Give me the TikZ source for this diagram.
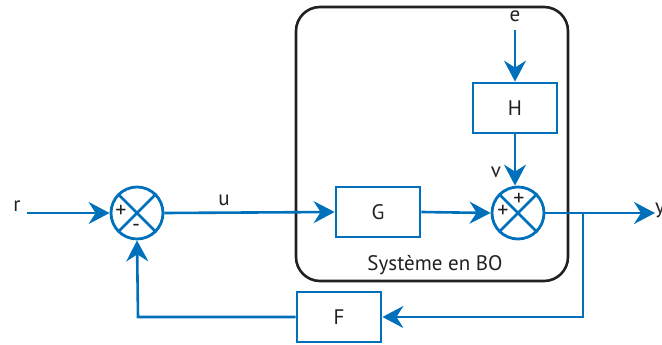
\documentclass[tikz,border=0pt]{standalone}
\usepackage{fontspec}
\setmainfont{PT Sans}
\usetikzlibrary{arrows.meta}
\definecolor{cblue}{RGB}{0,112,186}
\definecolor{ctext}{RGB}{35,31,32}
\tikzset{
  flow/.style={draw=cblue, line width=2.6pt, -{Stealth[length=21pt,width=22pt,inset=7pt]}},
  blk/.style={draw=cblue, line width=2.8pt, minimum width=84pt, minimum height=50pt, inner sep=0pt, text=ctext, font=\fontsize{21}{22}\selectfont},
  sumj/.style={draw=cblue, line width=2.8pt, circle, minimum size=52pt, inner sep=0pt},
  lbl/.style={text=ctext, font=\fontsize{21}{22}\selectfont, inner sep=0pt},
  sgn/.style={text=ctext, font=\fontsize{22}{22}\selectfont, inner sep=0pt}
}
\begin{document}
\begin{tikzpicture}[x=1pt,y=-1pt]
\useasboundingbox (0,0) rectangle (662,345);
% system box
\draw[ctext, line width=2.6pt, rounded corners=24pt] (296,7) rectangle (568,281);
\node[lbl] (sys) at (435,265) {Système en BO};
% nodes
\node[sumj] (s1) at (137,213) {};
\node[sumj] (s2) at (518,213) {};
\foreach \s in {s1,s2}{
  \draw[cblue, line width=2.6pt] (\s.45) -- (\s.225);
  \draw[cblue, line width=2.6pt] (\s.135) -- (\s.315);
}
\node[sgn] (p1) at (121,211) {+};
\node[sgn] (m1) at (136,228) {-};
\node[sgn] (p2) at (519,199) {+};
\node[sgn] (p3) at (503,211) {+};
\node[blk] (G) at (378,212) {G};
\node[blk] (H) at (515,108) {H};
\node[blk] (F) at (339,317) {F};
% labels
\node[lbl] (r) at (17,206) {r};
\coordinate (rin) at (27,213);
\node[lbl] (u) at (224,200) {u};
\node[lbl] (e) at (515,16) {e};
\coordinate (ein) at (515,30);
\node[lbl] (v) at (496,172) {v};
\node[lbl, anchor=west] (y) at (655,210) {y};
\coordinate (yout) at (655,213);
\coordinate (tap) at (583,213);
\coordinate (fb) at (583,317);
\coordinate (fl) at (138,317);
% connectors
\draw[flow] (rin) -- (s1.west);
\draw[flow] (s1.east) -- (G.west);
\draw[flow] (G.east) -- (s2.west);
\draw[flow] (ein) -- (H.north);
\draw[flow] (H.south) -- (H.south |- s2.north);
\draw[flow] (s2.east) -- (yout);
\draw[flow] (tap) -- (fb) -- (F.east);
\draw[flow] (F.west) -- (fl) -- (s1.south);
\end{tikzpicture}
\end{document}
